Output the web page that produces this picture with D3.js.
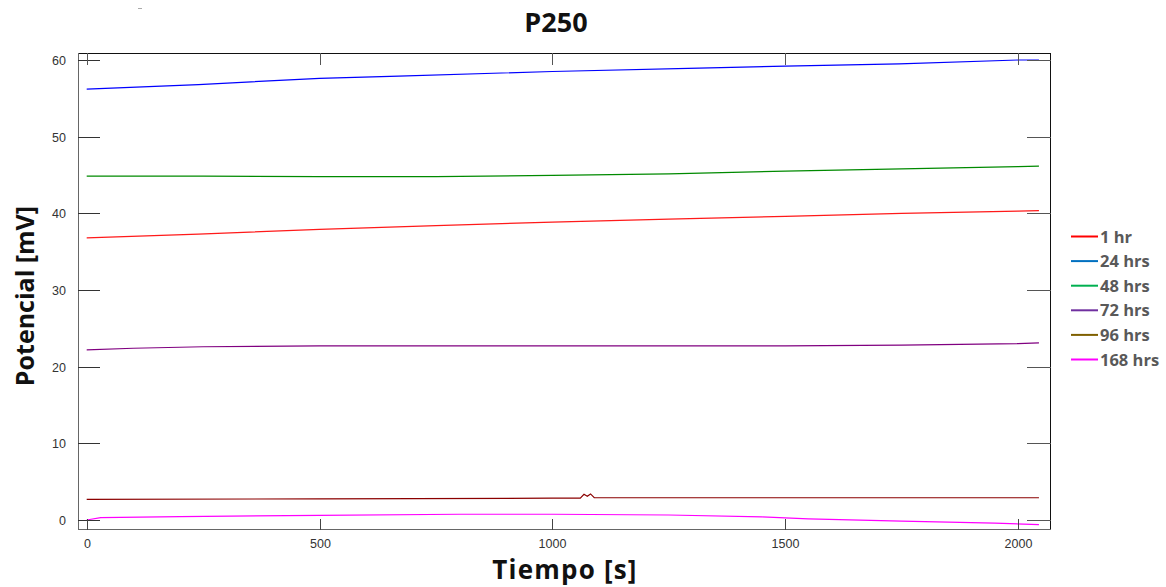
<!DOCTYPE html>
<html><head><meta charset="utf-8">
<script src="https://cdn.jsdelivr.net/npm/d3@7/dist/d3.min.js"></script>
<style>body{margin:0;background:#fff;} svg{display:block;}</style>
</head><body>
<script>
const seriesNames = ["1 hr","24 hrs","48 hrs","72 hrs","96 hrs","168 hrs"];
const lineColors = ["#ff1a1a","#0000ff","#008a00","#800080","#8b0000","#ff00ff"];
const legendColors = ["#ff0000","#0070c0","#00b050","#7030a0","#7f6000","#ff00ff"];
const xTicks = [0,500,1000,1500,2000];
const yTicks = [0,10,20,30,40,50,60];

const t_1hr = [0,240,500,750,1000,1250,1500,1750,2000,2045];
const v_1hr = [36.8,37.3,37.9,38.4,38.85,39.25,39.6,40.0,40.3,40.35];
const t_24 = [0,240,500,670,1000,1315,1500,1745,2000,2045];
const v_24 = [56.2,56.8,57.6,57.9,58.5,58.95,59.2,59.5,60.0,60.0];
const t_48 = [0,250,500,750,1000,1250,1500,1750,2000,2045];
const v_48 = [44.85,44.85,44.8,44.8,44.95,45.15,45.5,45.8,46.1,46.15];
const t_72 = [0,100,250,500,750,1000,1250,1500,1750,2000,2045];
const v_72 = [22.2,22.4,22.6,22.7,22.7,22.7,22.7,22.7,22.8,23.0,23.1];
const t_96 = [0,500,1000,1060,1068,1075,1082,1090,1500,2045];
const v_96 = [2.7,2.75,2.85,2.85,3.35,3.1,3.4,2.9,2.9,2.9];
const t_168 = [0,30,200,500,800,1000,1250,1450,1550,1750,1950,2045];
const v_168 = [0.0,0.3,0.45,0.6,0.75,0.75,0.65,0.4,0.15,-0.15,-0.4,-0.6];

const seriesT = [t_1hr,t_24,t_48,t_72,t_96,t_168];
const seriesV = [v_1hr,v_24,v_48,v_72,v_96,v_168];
const drawOrder = [4,5,3,0,2,1];

const W=1166,H=587;
const svg=d3.select("body").append("svg").attr("width",W).attr("height",H);
const L=78,R=1051,T=53,B=530;
const x=d3.scaleLinear().domain([0,2000]).range([86.7,1018]);
const y=d3.scaleLinear().domain([0,60]).range([520,60]);

// artifact dash
svg.append("line").attr("x1",138).attr("x2",142).attr("y1",8.5).attr("y2",8.5).attr("stroke","#aaa");

// lines
const line=d3.line().x(d=>x(d[0])).y(d=>y(d[1]));
drawOrder.forEach(i=>{
  const pts=seriesT[i].map((t,j)=>[t,seriesV[i][j]]);
  svg.append("path").attr("d",line(pts)).attr("fill","none")
    .attr("stroke",lineColors[i]).attr("stroke-width",1.2);
});

// frame
svg.append("line").attr("x1",L).attr("x2",R).attr("y1",T+0.5).attr("y2",T+0.5).attr("stroke","#111");
svg.append("line").attr("x1",R-0.5).attr("x2",R-0.5).attr("y1",T).attr("y2",B).attr("stroke","#111");
svg.append("line").attr("x1",L+0.5).attr("x2",L+0.5).attr("y1",T).attr("y2",B).attr("stroke","#666");
svg.append("line").attr("x1",L).attr("x2",R).attr("y1",B-0.5).attr("y2",B-0.5).attr("stroke","#666");

// y ticks
const gy=svg.append("g");
yTicks.forEach(v=>{
  const yy=Math.round(y(v))+0.5;
  gy.append("line").attr("x1",L).attr("x2",L+22).attr("y1",yy).attr("y2",yy).attr("stroke","#333");
  gy.append("line").attr("x1",R).attr("x2",R-24).attr("y1",yy).attr("y2",yy).attr("stroke","#555");
  gy.append("text").attr("x",66).attr("y",yy+4.5).attr("text-anchor","end")
    .attr("font-family","Liberation Sans, Arial").attr("font-size",12.5).attr("fill","#333").text(v);
});
// x ticks
const gx=svg.append("g");
xTicks.forEach(v=>{
  const xx=Math.round(x(v))+0.5;
  gx.append("line").attr("x1",xx).attr("x2",xx).attr("y1",B).attr("y2",B-11).attr("stroke","#444");
  gx.append("line").attr("x1",xx).attr("x2",xx).attr("y1",T).attr("y2",T+12).attr("stroke","#555");
  gx.append("text").attr("x",xx).attr("y",548).attr("text-anchor","middle")
    .attr("font-family","Liberation Sans, Arial").attr("font-size",12.5).attr("fill","#333").text(v);
});

// titles
svg.append("text").attr("x",556).attr("y",32).attr("text-anchor","middle")
  .attr("font-family","Open Sans, Noto Sans, sans-serif").attr("font-weight","bold").attr("font-size",27).attr("fill","#111").text("P250");
svg.append("text").attr("x",565).attr("y",579).attr("text-anchor","middle")
  .attr("font-family","Open Sans, Noto Sans, sans-serif").attr("font-weight","bold").attr("font-size",26)
  .attr("letter-spacing",1.2).attr("fill","#111").text("Tiempo [s]");
svg.append("text").attr("transform","translate(34,296) rotate(-90)").attr("text-anchor","middle")
  .attr("font-family","Open Sans, Noto Sans, sans-serif").attr("font-weight","bold").attr("font-size",25).attr("fill","#111").text("Potencial [mV]");

// legend
const lg=svg.append("g");
seriesNames.forEach((n,i)=>{
  const yy=236.5+i*24.6;
  lg.append("line").attr("x1",1071).attr("x2",1098).attr("y1",yy).attr("y2",yy)
    .attr("stroke",legendColors[i]).attr("stroke-width",2);
  lg.append("text").attr("x",1100).attr("y",yy+6)
    .attr("font-family","Open Sans, Noto Sans, sans-serif").attr("font-weight","bold").attr("font-size",16.5).attr("fill","#595959").text(n);
});
</script>
</body></html>
